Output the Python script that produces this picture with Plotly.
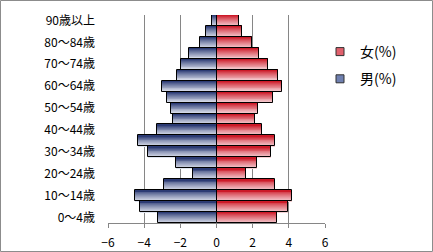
import plotly.graph_objects as go

ages = ["0～4歳", "5～9歳", "10～14歳", "15～19歳", "20～24歳", "25～29歳",
        "30～34歳", "35～39歳", "40～44歳", "45～49歳", "50～54歳", "55～59歳",
        "60～64歳", "65～69歳", "70～74歳", "75～79歳", "80～84歳", "85～89歳",
        "90歳以上"]
male = [-3.23, -4.23, -4.50, -2.90, -1.30, -2.24, -3.78, -4.34, -3.29, -2.40,
        -2.51, -2.73, -3.01, -2.18, -1.96, -1.52, -0.94, -0.58, -0.25]
female = [3.34, 3.95, 4.17, 3.23, 1.63, 2.24, 3.01, 3.23, 2.51, 2.13,
          2.29, 3.12, 3.62, 3.40, 2.85, 2.35, 1.96, 1.41, 1.24]
male_name = "男(%)"
female_name = "女(%)"
x_ticks = [-6, -4, -2, 0, 2, 4, 6]

FONT = "Noto Sans CJK JP, Noto Sans, sans-serif"

# gradient endpoints (top dark -> bottom light)
grad = {
    "m": ((28, 44, 105), (230, 234, 244)),
    "f": ((200, 10, 25), (248, 216, 220)),
}
mid = {"m": "#6f80b0", "f": "#e0606c"}


def mix(c0, c1, t):
    return "rgb(%d,%d,%d)" % tuple(round(a + (b - a) * t) for a, b in zip(c0, c1))


fig = go.Figure()
N = 12
for key, vals in (("f", female), ("m", male)):
    dark, light = grad[key]
    for k in range(N):
        t = 1 - (k + 0.5) / N  # k=0 bottom -> light
        fig.add_trace(go.Bar(
            x=vals, y=ages, orientation="h",
            offset=-0.5 + k / N, width=1.0 / N,
            marker=dict(color=mix(dark, light, t ** 0.8), line=dict(width=0)),
            showlegend=False, hoverinfo="skip"))
    # outline
    fig.add_trace(go.Bar(
        x=vals, y=ages, orientation="h", offset=-0.5, width=1.0,
        marker=dict(color="rgba(0,0,0,0)", line=dict(color="black", width=1)),
        showlegend=False, name=female_name if key == "f" else male_name))

# legend entries
for key, name in (("f", female_name), ("m", male_name)):
    fig.add_trace(go.Scatter(
        x=[None], y=[None], mode="markers", name=name, legendgroup=key,
        marker=dict(symbol="square", size=8, color=mid[key],
                    line=dict(color="#303030", width=1))))

W, H = 433, 252
ml, mr, mt, mb = 108, 108, 15, 29
pw, ph = W - ml - mr, H - mt - mb

fig.update_layout(
    width=W, height=H,
    margin=dict(l=ml, r=mr, t=mt, b=mb, pad=0, autoexpand=False),
    paper_bgcolor="white", plot_bgcolor="white",
    barmode="overlay",
    bargap=0,
    font=dict(family=FONT, size=12, color="black"),
    showlegend=True,
    legend=dict(x=(320 - ml) / pw, xanchor="left", y=(H - mt - 50) / ph,
                yanchor="top", traceorder="grouped", tracegroupgap=6,
                font=dict(size=14), bgcolor="rgba(0,0,0,0)"),
    xaxis=dict(range=[-6, 6], tickvals=x_ticks, showgrid=True,
               gridcolor="#868686", gridwidth=1, zeroline=True,
               zerolinecolor="#606060", zerolinewidth=1,
               showline=True, linecolor="#868686", linewidth=1,
               ticks="outside", ticklen=4, tickcolor="#868686",
               ticklabelstandoff=5, automargin=False,
               tickfont=dict(size=12), fixedrange=True),
    yaxis=dict(type="category", categoryorder="array", categoryarray=ages,
               range=[-0.5, len(ages) - 0.5], tickmode="array",
               tickvals=ages[::2], showgrid=False, showline=False,
               ticks="", ticklabelstandoff=12, tickfont=dict(size=12),
               automargin=False, fixedrange=True),
    shapes=[dict(type="rect", xref="paper", yref="paper",
                 x0=(-ml + 0.5) / pw, x1=1 + (mr - 0.5) / pw,
                 y0=(-mb + 0.5) / ph, y1=1 + (mt - 0.5) / ph,
                 line=dict(color="#8c8c8c", width=1), layer="below")],
)

fig.write_html("out.html")
